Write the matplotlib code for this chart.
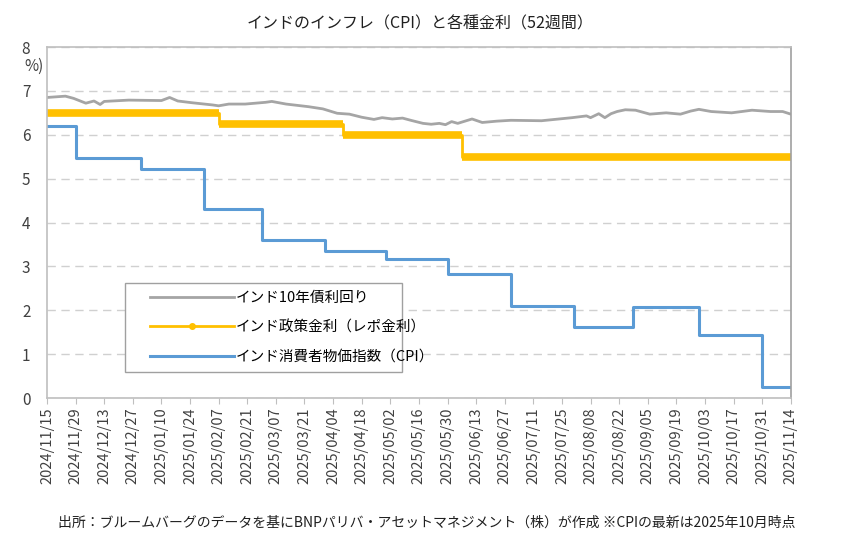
import matplotlib
matplotlib.use("Agg")
import matplotlib.pyplot as plt
import matplotlib.dates as mdates
from matplotlib.lines import Line2D
from matplotlib.patches import Rectangle
import numpy as np
import pandas as pd

plt.rcParams['font.family'] = ['Noto Sans CJK JP', 'DejaVu Sans']

# --- data ---
yield_dates = ['2024-11-15', '2024-11-24', '2024-11-28', '2024-12-04', '2024-12-08', '2024-12-11',
               '2024-12-13', '2024-12-25', '2025-01-10', '2025-01-14', '2025-01-18', '2025-01-25',
               '2025-02-04', '2025-02-07', '2025-02-12', '2025-02-20', '2025-03-02', '2025-03-05',
               '2025-03-12', '2025-03-23', '2025-03-30', '2025-04-06', '2025-04-12', '2025-04-18',
               '2025-04-24', '2025-04-28', '2025-05-03', '2025-05-08', '2025-05-12', '2025-05-18',
               '2025-05-22', '2025-05-26', '2025-05-29', '2025-06-01', '2025-06-04', '2025-06-11',
               '2025-06-16', '2025-06-23', '2025-06-30', '2025-07-15', '2025-07-30', '2025-08-06',
               '2025-08-08', '2025-08-12', '2025-08-15', '2025-08-18', '2025-08-21', '2025-08-25',
               '2025-08-30', '2025-09-06', '2025-09-14', '2025-09-21', '2025-09-26', '2025-09-30',
               '2025-10-06', '2025-10-16', '2025-10-26', '2025-11-04', '2025-11-10', '2025-11-14']
yield_10y = [6.85, 6.88, 6.83, 6.72, 6.77, 6.69,
             6.76, 6.79, 6.78, 6.85, 6.77, 6.73,
             6.68, 6.66, 6.70, 6.70, 6.74, 6.76,
             6.70, 6.64, 6.59, 6.49, 6.47, 6.40,
             6.35, 6.39, 6.36, 6.38, 6.33, 6.26,
             6.24, 6.26, 6.23, 6.30, 6.26, 6.36,
             6.28, 6.31, 6.33, 6.32, 6.39, 6.43,
             6.39, 6.48, 6.39, 6.48, 6.53, 6.57,
             6.56, 6.47, 6.50, 6.47, 6.54, 6.58,
             6.53, 6.50, 6.56, 6.53, 6.53, 6.47]

repo_dates = ['2024-11-15', '2025-02-07', '2025-04-09', '2025-06-06', '2025-11-14']
repo_rate = [6.50, 6.25, 6.00, 5.50, 5.50]

cpi_dates = ['2024-11-15', '2024-11-29', '2024-12-31', '2025-01-31', '2025-02-28', '2025-03-31',
             '2025-04-30', '2025-05-30', '2025-06-30', '2025-07-31', '2025-08-29', '2025-09-30',
             '2025-10-31', '2025-11-14']
cpi = [6.21, 5.48, 5.22, 4.31, 3.61, 3.34,
       3.16, 2.82, 2.10, 1.61, 2.07, 1.44,
       0.25, 0.25]

labels = ['インド10年債利回り', 'インド政策金利（レポ金利）', 'インド消費者物価指数（CPI）']
title = 'インドのインフレ（CPI）と各種金利（52週間）'
source = '出所：ブルームバーグのデータを基にBNPパリバ・アセットマネジメント（株）が作成 ※CPIの最新は2025年10月時点'

yd = pd.to_datetime(yield_dates)
rd = pd.to_datetime(repo_dates)
cd = pd.to_datetime(cpi_dates)

GRAY = '#A5A5A5'
GOLD = '#FFC000'
BLUE = '#5B9BD5'

fig = plt.figure(figsize=(8.53, 5.43), dpi=100)
ax = fig.add_axes([0.0551, 0.267, 0.872, 0.6464])

ax.plot(yd, yield_10y, color=GRAY, lw=2)
ax.step(rd, repo_rate, where='post', color=GOLD, lw=2)
ax.hlines(repo_rate[:-1], rd[:-1], rd[1:], color=GOLD, lw=5.5)
ax.step(cd, cpi, where='post', color=BLUE, lw=2.2)

ax.set_xlim(pd.Timestamp('2024-11-15'), pd.Timestamp('2025-11-14'))
ax.set_ylim(0, 8)
ax.set_yticks(range(0, 9))
ax.grid(axis='y', color='#D0D0D0', linestyle=(0, (6, 4)), lw=1)
ax.set_axisbelow(True)

xt = pd.date_range('2024-11-15', '2025-11-14', freq='14D')
ax.set_xticks(xt)
ax.xaxis.set_major_formatter(mdates.DateFormatter('%Y/%m/%d'))
plt.setp(ax.get_xticklabels(), rotation=90, fontsize=10.5, color='#404040')
plt.setp(ax.get_yticklabels(), fontsize=11, color='#404040')
ax.tick_params(axis='y', length=0, pad=12)
ax.tick_params(axis='x', length=4, color='#BFBFBF', pad=3)

for s in ax.spines.values():
    s.set_color('#BFBFBF')
    s.set_linewidth(1.2)
ax.spines['right'].set_color('#A0A0A0')

fig.text(0.028, 0.878, '%)', fontsize=11, color='#404040', ha='left', va='center')

# legend: frame drawn separately so the handles can sit inset like the original
ax.add_patch(Rectangle((0.105, 0.074), 0.372, 0.254, transform=ax.transAxes,
                       facecolor='white', edgecolor='#A0A0A0', lw=1, zorder=4))
handles = [Line2D([], [], color=GRAY, lw=2),
           Line2D([], [], color=GOLD, lw=2, marker='o', markersize=4),
           Line2D([], [], color=BLUE, lw=2.2)]
leg = ax.legend(handles, labels, loc='upper left', bbox_to_anchor=(0.138, 0.306),
                fontsize=10.5, frameon=False, borderaxespad=0, borderpad=0,
                handlelength=5.8, handletextpad=0.1, labelspacing=1.07)
leg.set_zorder(5)

fig.text(0.493, 0.955, title, fontsize=11.5, ha='center', va='center', color='#202020')
fig.text(0.5, 0.038, source, fontsize=10, ha='center', va='center', color='#202020')

fig.savefig('out.png', dpi=100)
